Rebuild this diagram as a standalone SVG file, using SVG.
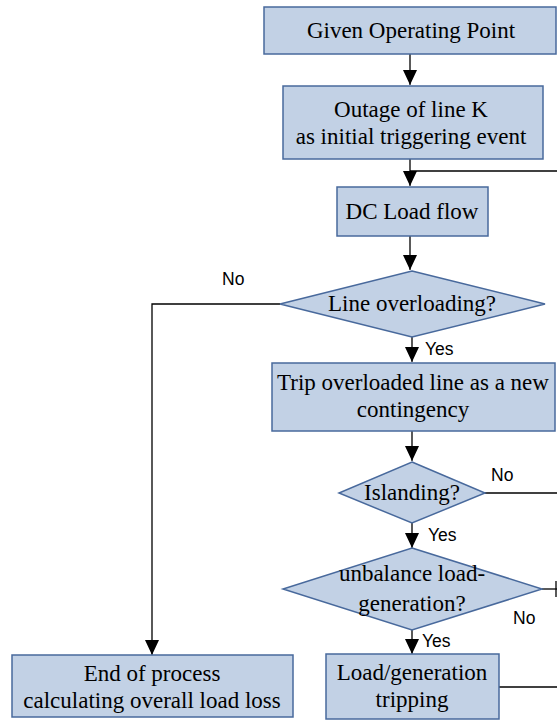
<svg xmlns="http://www.w3.org/2000/svg" width="557" height="722" viewBox="0 0 557 722">
<style>
.n{fill:#c2d1e5;stroke:#48699c;stroke-width:1.5}
.t{font-family:"Liberation Serif","Times New Roman",serif;font-size:23px;fill:#000;text-anchor:middle}
.l{font-family:"Liberation Sans",Arial,sans-serif;font-size:17.5px;fill:#000}
.c{fill:none;stroke:#000;stroke-width:1.3}
</style>
<defs>
<marker id="a" markerWidth="14" markerHeight="15" refX="15" refY="7" orient="auto" markerUnits="userSpaceOnUse">
<path d="M0,0 L15,7 L0,14 Z" fill="#000"/>
</marker>
</defs>
<rect width="557" height="722" fill="#fff"/>
<g id="connectors">
<path class="c" d="M410,54 V85" marker-end="url(#a)"/>
<path class="c" d="M410,159 V186" marker-end="url(#a)"/>
<path class="c" d="M410,171 H557"/>
<path class="c" d="M410,236 V270" marker-end="url(#a)"/>
<path class="c" d="M412,337 V362" marker-end="url(#a)"/>
<path class="c" d="M280,304 H152 V655" marker-end="url(#a)"/>
<path class="c" d="M412,431 V461" marker-end="url(#a)"/>
<path class="c" d="M485,493 H557"/>
<path class="c" d="M412,523 V548" marker-end="url(#a)"/>
<path class="c" d="M542,589 H557"/>
<path class="c" d="M556,581 V597"/>
<path class="c" d="M412,630 V654" marker-end="url(#a)"/>
<path class="c" d="M499,687 H557"/>
<text class="l" x="222" y="285">No</text>
<text class="l" x="425" y="355">Yes</text>
<text class="l" x="491" y="481">No</text>
<text class="l" x="428" y="541">Yes</text>
<text class="l" x="513" y="624">No</text>
<text class="l" x="422" y="647">Yes</text>
</g>
<g id="n1"><rect class="n" x="264" y="7" width="292" height="47"/><text class="t" x="411" y="38">Given Operating Point</text></g>
<g id="n2"><rect class="n" x="283" y="86" width="260" height="73"/><text class="t" x="411" y="117">Outage of line K</text><text class="t" x="411" y="144">as initial triggering event</text></g>
<g id="n3"><rect class="n" x="337" y="187" width="151" height="49"/><text class="t" x="412" y="219">DC Load flow</text></g>
<g id="n4"><polygon class="n" points="412,271 545,304 412,337 280,304"/><text class="t" x="412" y="311">Line overloading?</text></g>
<g id="n5"><rect class="n" x="272" y="363" width="283" height="68"/><text class="t" x="413" y="390">Trip overloaded line as a new</text><text class="t" x="413" y="417">contingency</text></g>
<g id="n6"><polygon class="n" points="412,462 485,493 412,523 339,493"/><text class="t" x="412" y="500">Islanding?</text></g>
<g id="n7"><polygon class="n" points="412,548 542,589 412,630 283,589"/><text class="t" x="412" y="581">unbalance load-</text><text class="t" x="412" y="611">generation?</text></g>
<g id="n8"><rect class="n" x="326" y="654" width="173" height="65"/><text class="t" x="412" y="680">Load/generation</text><text class="t" x="412" y="707">tripping</text></g>
<g id="n9"><rect class="n" x="12" y="655" width="281" height="62"/><text class="t" x="152" y="681">End of process</text><text class="t" x="152" y="708">calculating overall load loss</text></g>
</svg>
